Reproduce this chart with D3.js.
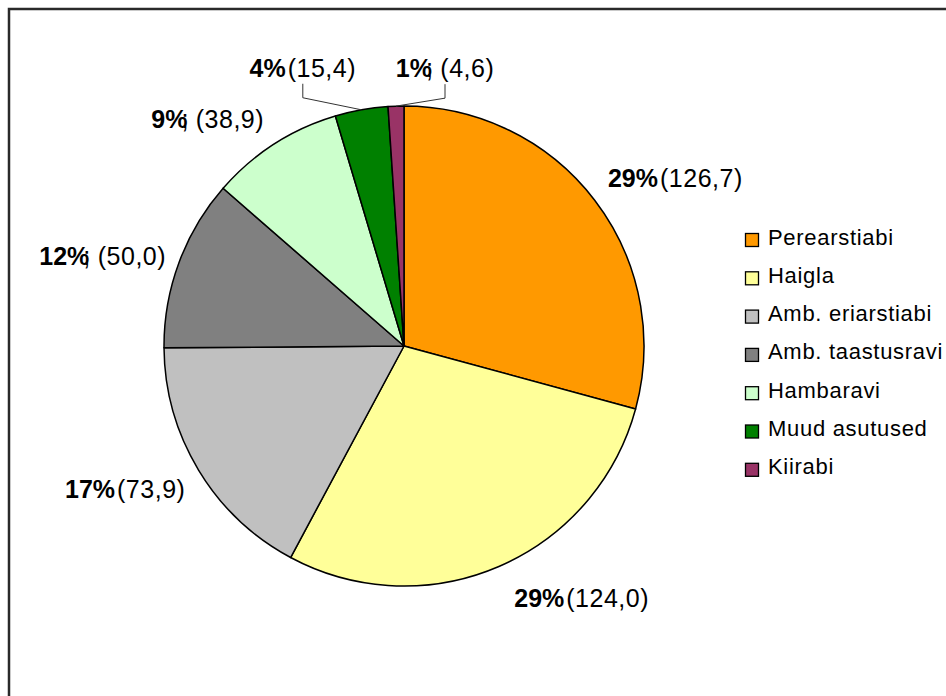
<!DOCTYPE html>
<html>
<head>
<meta charset="utf-8">
<script src="https://cdn.jsdelivr.net/npm/d3@7"></script>
<style>
  html, body { margin: 0; padding: 0; background: #fff; }
  svg { display: block; font-family: "Liberation Sans", Arial, sans-serif; }
</style>
</head>
<body>
<svg id="chart" width="946" height="696"></svg>
<script>
// Healthcare spending by provider type (amount in parentheses)
const categories = ["Perearstiabi", "Haigla", "Amb. eriarstiabi", "Amb. taastusravi", "Hambaravi", "Muud asutused", "Kiirabi"];
const values = [126.7, 124.0, 73.9, 50.0, 38.9, 15.4, 4.6];
const valueLabels = ["126,7", "124,0", "73,9", "50,0", "38,9", "15,4", "4,6"];
const withSemicolon = [false, false, false, true, true, false, true];
const colors = ["#FF9900", "#FFFF99", "#C0C0C0", "#808080", "#CCFFCC", "#008000", "#993366"];

// Label placement: offset from a point on an outer ring at the slice's mid-angle
const labelNudge = [[33, 14], [59, -24], [-22, -12], [-20, 14], [-34, 25], [-48, 17], [51, 22]];
const leaderLines = [false, false, false, false, false, true, true];

const svg = d3.select("#chart");
const W = 946, H = 696;
const cx = 404, cy = 346, R = 240, labelR = 300;

// outer frame
svg.append("rect")
  .attr("x", 9).attr("y", 9)
  .attr("width", 1200).attr("height", 1200)
  .attr("fill", "none").attr("stroke", "#2a2a2a").attr("stroke-width", 2.5);

const total = d3.sum(values);
const data = categories.map((c, i) => ({ name: c, value: values[i], i }));

const pie = d3.pie().value(d => d.value).sort(null);
const arcs = pie(data);
const arc = d3.arc().innerRadius(0).outerRadius(R);

const g = svg.append("g").attr("transform", `translate(${cx},${cy})`);

g.selectAll("path.slice")
  .data(arcs)
  .join("path")
  .attr("class", "slice")
  .attr("d", arc)
  .attr("fill", d => colors[d.data.i])
  .attr("stroke", "#000")
  .attr("stroke-width", 1.5)
  .attr("stroke-linejoin", "round");

const pct = d3.format(".0%");
const fontSize = 25;

arcs.forEach(d => {
  const i = d.data.i;
  const mid = (d.startAngle + d.endAngle) / 2;
  const ax = Math.sin(mid) * labelR + labelNudge[i][0];
  const ay = -Math.cos(mid) * labelR + labelNudge[i][1];
  const baseline = ay + 9;

  const t = g.append("text")
    .attr("x", ax).attr("y", baseline)
    .attr("text-anchor", "middle")
    .attr("font-size", fontSize)
    .attr("fill", "#000");
  t.append("tspan").attr("font-weight", "bold").text(pct(d.value / total));
  if (withSemicolon[i]) {
    t.append("tspan").attr("dx", -6).text(";");
    t.append("tspan").attr("letter-spacing", 0.5).text("\u00a0(" + valueLabels[i] + ")");
  } else {
    t.append("tspan").attr("dx", 2).attr("letter-spacing", 0.5).text("(" + valueLabels[i] + ")");
  }

  if (leaderLines[i]) {
    const ex = Math.sin(mid) * R, ey = -Math.cos(mid) * R;
    const y0 = baseline + 7, y1 = baseline + 21;
    g.append("path")
      .attr("d", d3.line()([[ax, y0], [ax, y1], [ex, ey]]))
      .attr("fill", "none")
      .attr("stroke", "#333")
      .attr("stroke-width", 1);
  }
});

// legend
const legend = svg.append("g").attr("transform", "translate(745,233)");
const rowH = 38.3;
const rows = legend.selectAll("g.row")
  .data(categories)
  .join("g")
  .attr("class", "row")
  .attr("transform", (d, i) => `translate(0,${i * rowH})`);
rows.append("rect")
  .attr("x", 0.5).attr("y", 0.5)
  .attr("width", 13).attr("height", 13)
  .attr("fill", (d, i) => colors[i])
  .attr("stroke", "#000").attr("stroke-width", 1.3);
rows.append("text")
  .attr("x", 23).attr("y", 11.5)
  .attr("font-size", 22)
  .attr("letter-spacing", 0.7)
  .attr("fill", "#000")
  .text(d => d);
</script>
</body>
</html>
